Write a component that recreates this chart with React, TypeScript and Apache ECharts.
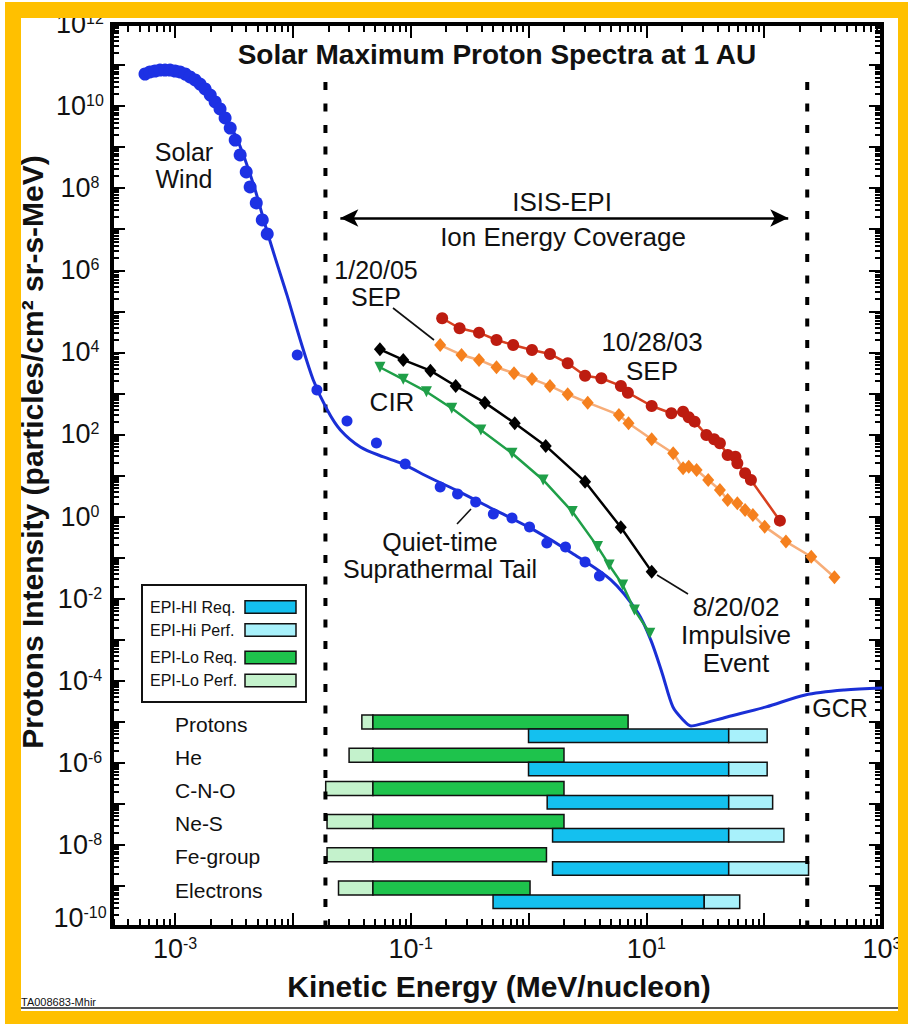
import React, { useEffect, useRef } from 'react';
import * as echarts from 'echarts';

const FONT = '"Liberation Sans", Arial, Helvetica, sans-serif';
const ORANGE = '#FFC000';

// ---- plot frame ----
const GRID_LEFT = 112;
const GRID_TOP = 24;
const GRID_W = 770;
const GRID_H = 903;

// ---- axis ranges ----
const X_MIN = Math.pow(10, -3.535);
const X_MAX = 1000;
const Y_MIN = 1e-10;
const Y_MAX = 1e12;

// ---- tick labels ----
const xLabelValues = [1e-3, 1e-1, 1e1, 1e3];
const xLabelExponents = ['-3', '-1', '1', '3'];
const yLabelValues = [1e12, 1e10, 1e8, 1e6, 1e4, 1e2, 1, 1e-2, 1e-4, 1e-6, 1e-8, 1e-10];
const yLabelExponents = ['12', '10', '8', '6', '4', '2', '0', '-2', '-4', '-6', '-8', '-10'];

// ---- tick positions ----
const xDecadeTicks = [1e-3, 1e-2, 1e-1, 1, 1e1, 1e2, 1e3];
const xMinorBases = [1e-4, 1e-3, 1e-2, 1e-1, 1, 1e1, 1e2];
const yDecadeTicks = [1e-10, 1e-9, 1e-8, 1e-7, 1e-6, 1e-5, 1e-4, 1e-3, 1e-2, 1e-1, 1, 1e1, 1e2, 1e3, 1e4, 1e5, 1e6, 1e7, 1e8, 1e9, 1e10, 1e11, 1e12];
const yMinorBases = [1e-10, 1e-9, 1e-8, 1e-7, 1e-6, 1e-5, 1e-4, 1e-3, 1e-2, 1e-1, 1, 1e1, 1e2, 1e3, 1e4, 1e5, 1e6, 1e7, 1e8, 1e9, 1e10, 1e11];
const minorMultipliers = [2, 3, 4, 5, 6, 7, 8, 9];

// ---- data: [energy MeV/nucleon, intensity] ----
const solarWindCurve = [
  [5.56e-4, 6.4e10], [7.45e-4, 7.57e10], [1.0e-3, 7.16e10], [1.34e-3, 4.84e10], [1.8e-3, 2.08e10],
  [2.41e-3, 8.04e9], [3.24e-3, 1.98e9], [3.94e-3, 4.86e8], [4.79e-3, 9.04e7], [5.82e-3, 1.27e7],
  [7.08e-3, 2.0e6], [8.96e-3, 2.37e5], [1.156e-2, 2.0e4], [1.49e-2, 2.13e3], [1.96e-2, 395],
  [2.53e-2, 129], [3.74e-2, 49.7], [5.87e-2, 28.3], [8.19e-2, 20.2], [0.147, 8.7], [0.24, 4.45],
  [0.516, 1.45], [1.107, 0.472], [2.33, 0.13], [5.0, 0.0286], [8.49, 4.49e-3], [10.9, 9.86e-4],
  [13.6, 1.55e-4], [16.8, 2.3e-5], [20.5, 1.11e-5], [23.9, 7.92e-6], [29.1, 8.87e-6], [48.4, 1.31e-5],
  [104, 2.3e-5], [223, 4.51e-5], [479, 5.97e-5], [1000, 6.68e-5],
];
const solarWindDots = [
  [5.56e-4, 6.05e10], [6.13e-4, 6.78e10], [6.76e-4, 7.16e10], [7.45e-4, 7.57e10], [8.22e-4, 7.57e10],
  [9.07e-4, 7.57e10], [1.0e-3, 7.16e10], [1.1e-3, 6.78e10], [1.22e-3, 6.05e10], [1.34e-3, 5.12e10],
  [1.48e-3, 4.33e10], [1.63e-3, 3.45e10], [1.8e-3, 2.61e10], [1.99e-3, 1.86e10], [2.19e-3, 1.26e10],
  [2.41e-3, 8.5e9], [2.66e-3, 5.13e9], [2.94e-3, 2.92e9], [3.24e-3, 1.49e9], [3.57e-3, 6.44e8],
  [4.02e-3, 2.48e8], [4.34e-3, 1.07e8], [4.89e-3, 4.36e7], [5.5e-3, 1.68e7], [6.06e-3, 7.66e6],
];
const quietTailDots = [
  [1.09e-2, 8.65e3], [1.6e-2, 1.21e3], [2.88e-2, 213], [5.12e-2, 62.1], [8.98e-2, 19.1],
  [0.178, 5.26], [0.25, 3.55], [0.356, 2.27], [0.503, 1.16], [0.724, 0.925], [1.02, 0.558],
  [1.43, 0.228], [2.06, 0.182], [3.02, 0.0783], [4.0, 0.0357],
];
const sep102803 = [
  [0.185, 6.78e4], [0.26, 3.86e4], [0.38, 3.02e4], [0.535, 2.0e4], [0.741, 1.51e4], [1.07, 1.14e4],
  [1.52, 9.14e3], [2.15, 5.42e3], [3.02, 2.7e3], [4.15, 2.34e3], [6.08, 1.52e3], [6.97, 1.04e3],
  [11.1, 494], [16.3, 328], [20.5, 359], [22.9, 262], [25.7, 205], [32.3, 97.3], [37.6, 76.4],
  [42.1, 61.1], [49.0, 31.7], [57.0, 28.8], [59.2, 19.9], [68.9, 11.4], [77.2, 7.8], [136, 0.794],
];
const sep012005 = [
  [0.178, 1.51e4], [0.27, 8.65e3], [0.38, 6.53e3], [0.535, 4.34e3], [0.753, 3.1e3], [1.07, 2.25e3],
  [1.52, 1.52e3], [2.15, 953], [3.18, 596], [5.85, 299], [7.06, 188], [11.1, 76.4], [16.9, 34.8],
  [20.5, 15.0], [22.9, 16.4], [26.7, 13.6], [33.5, 7.8], [42.1, 4.45], [49.0, 2.54], [59.2, 2.11],
  [68.9, 1.45], [80.2, 1.09], [101, 0.568], [153, 0.245], [251, 0.105], [395, 0.0332],
];
const impulsive082002 = [
  [5.48e-2, 1.19e4], [8.65e-2, 6.53e3], [0.147, 3.58e3], [0.241, 1.52e3], [0.426, 596],
  [0.764, 188], [1.4, 52.5], [3.02, 7.08], [6.07, 0.548], [11.1, 0.0455],
];
const cirEvent = [
  [5.48e-2, 4.34e3], [8.65e-2, 2.21e3], [0.136, 1.1e3], [0.223, 435], [0.394, 129], [0.724, 34.8],
  [1.33, 7.8], [2.35, 1.32], [3.85, 0.185], [4.83, 0.0662], [6.3, 0.0216], [7.92, 5.31e-3], [10.7, 1.44e-3],
];

// ISIS-EPI coverage boundaries (MeV/nucleon)
const coverageBounds = [0.0189, 232];
const coverageTop = 3.86e10;
const arrowEnds = [0.0253, 160];
const arrowLevel = 1.88e7;

// ---- instrument energy coverage ----
const species = ['Protons', 'He', 'C-N-O', 'Ne-S', 'Fe-group', 'Electrons'];
const epiLoPerfStart = [0.0385, 0.03, 0.019, 0.0195, 0.0195, 0.0244];
const epiLoReqStart = [0.0478, 0.0478, 0.0478, 0.0478, 0.0478, 0.0478];
const epiLoReqEnd = [7.0, 2.0, 2.0, 2.0, 1.42, 1.03];
const epiHiReqStart = [1.0, 1.0, 1.44, 1.6, 1.6, 0.5];
const epiHiReqEnd = [50, 50, 50, 50, 50, 31];
const epiHiPerfEnd = [106, 106, 118, 147, 238, 62];

const COLORS = {
  hiReq: '#14c0ef',
  hiPerf: '#a8f1fb',
  loReq: '#1ec34c',
  loPerf: '#c4f2cc',
};

const LX0 = Math.log10(X_MIN);
const LX1 = Math.log10(X_MAX);
const LY0 = Math.log10(Y_MIN);
const LY1 = Math.log10(Y_MAX);
const PX_PER_DEC_X = GRID_W / (LX1 - LX0);
const PX_PER_DEC_Y = GRID_H / (LY1 - LY0);

const txt = (text: string, x: number, y: number, size: number, extra: any = {}) => ({
  type: 'text',
  x,
  y,
  rotation: extra.rotation || 0,
  silent: true,
  z: 100,
  style: {
    text,
    font: `${extra.bold ? 'bold ' : ''}${size}px ${FONT}`,
    fill: extra.fill || '#111',
    align: extra.align || 'center',
    verticalAlign: 'middle',
    lineHeight: extra.lineHeight,
  },
});
const seg = (x1: number, y1: number, x2: number, y2: number, w = 1.6, color = '#111') => ({
  type: 'line',
  silent: true,
  z: 100,
  shape: { x1, y1, x2, y2 },
  style: { stroke: color, lineWidth: w },
});

function minorList(bases: number[], lo: number, hi: number) {
  const out: number[] = [];
  bases.forEach((b) => minorMultipliers.forEach((m) => {
    const v = m * b;
    if (v > lo && v < hi) out.push(v);
  }));
  return out;
}

// tick marks as mark-lines in data space (length given in pixels -> decades)
function tickMarkLines() {
  const lines: any[] = [];
  const addX = (v: number, len: number) => {
    const f = Math.pow(10, len / PX_PER_DEC_Y);
    lines.push([{ coord: [v, Y_MIN] }, { coord: [v, Y_MIN * f] }]);
    lines.push([{ coord: [v, Y_MAX] }, { coord: [v, Y_MAX / f] }]);
  };
  const addY = (v: number, len: number) => {
    const f = Math.pow(10, len / PX_PER_DEC_X);
    lines.push([{ coord: [X_MIN, v] }, { coord: [X_MIN * f, v] }]);
    lines.push([{ coord: [X_MAX, v] }, { coord: [X_MAX / f, v] }]);
  };
  xDecadeTicks.forEach((v) => addX(v, 14));
  minorList(xMinorBases, X_MIN, X_MAX).forEach((v) => addX(v, 8));
  yDecadeTicks.forEach((v) => addY(v, 13));
  minorList(yMinorBases, Y_MIN, Y_MAX).forEach((v) => addY(v, 7));
  return lines;
}

function annotationGraphic() {
  const legendRows = [
    { label: 'EPI-HI Req.', color: COLORS.hiReq, y: 607 },
    { label: 'EPI-Hi Perf.', color: COLORS.hiPerf, y: 630 },
    { label: 'EPI-Lo Req.', color: COLORS.loReq, y: 657.5 },
    { label: 'EPI-Lo Perf.', color: COLORS.loPerf, y: 680.5 },
  ];
  return [
    txt('Solar Maximum Proton Spectra at 1 AU', 497, 54, 28, { bold: true }),
    txt('Protons Intensity (particles/cm² sr-s-MeV)', 32, 452, 30, { bold: true, rotation: Math.PI / 2 }),
    txt('Kinetic Energy (MeV/nucleon)', 499, 986, 30, { bold: true }),
    txt('Solar\nWind', 184, 165, 25, { lineHeight: 27 }),
    txt('ISIS-EPI', 562, 202, 26),
    txt('Ion Energy Coverage', 563, 237, 26),
    txt('1/20/05\nSEP', 376, 283, 25, { lineHeight: 27 }),
    txt('10/28/03\nSEP', 652, 356, 26, { lineHeight: 29 }),
    txt('CIR', 392, 402, 26),
    txt('Quiet-time\nSuprathermal Tail', 440, 555, 25, { lineHeight: 27 }),
    txt('8/20/02\nImpulsive\nEvent', 736, 635, 26, { lineHeight: 28 }),
    txt('GCR', 840, 708, 25),
    seg(393, 308, 434, 340),
    seg(457, 524, 471, 509),
    seg(657, 575, 688, 594),
    {
      type: 'rect', z: 100, silent: true,
      shape: { x: 142, y: 585, width: 164, height: 117 },
      style: { fill: '#fff', stroke: '#111', lineWidth: 2 },
    },
    ...legendRows.flatMap((r) => [
      txt(r.label, 150, r.y, 16, { align: 'left' }),
      {
        type: 'rect', z: 101, silent: true,
        shape: { x: 245, y: r.y - 6.3, width: 51, height: 12.6 },
        style: { fill: r.color, stroke: '#111', lineWidth: 1.5 },
      },
    ]),
    txt('TA008683-Mhir', 21, 1002, 11, { align: 'left' }),
    seg(21, 1008, 898, 1008, 2, '#555'),
  ];
}

function buildOption() {
  // bars table: [start, end, row, layer(0 = EPI-Lo, 1 = EPI-Hi), kind(0 req, 1 perf)]
  const bars: number[][] = [];
  species.forEach((_, i) => {
    bars.push([epiLoPerfStart[i], epiLoReqStart[i], i, 0, 1]);
    bars.push([epiLoReqStart[i], epiLoReqEnd[i], i, 0, 0]);
    bars.push([epiHiReqStart[i], epiHiReqEnd[i], i, 1, 0]);
    bars.push([epiHiReqEnd[i], epiHiPerfEnd[i], i, 1, 1]);
  });

  const richLabel = (fs: number, ss: number) => ({
    b: { fontSize: fs, fontFamily: FONT, fill: '#111', verticalAlign: 'middle' },
    s: { fontSize: ss, fontFamily: FONT, fill: '#111', verticalAlign: 'top' },
  });

  const dashStyle = { color: '#000', width: 4, type: [8, 13.5] as any };

  const series: any[] = [
    {
      type: 'custom',
      name: 'coverage',
      xAxisIndex: 1,
      yAxisIndex: 1,
      silent: true,
      data: bars,
      encode: { x: [0, 1], y: 2 },
      renderItem: (params: any, api: any) => {
        const row = api.value(2);
        const layer = api.value(3);
        const kind = api.value(4);
        const p0 = api.coord([api.value(0), row]);
        const p1 = api.coord([api.value(1), row]);
        const band = api.size([1, 1])[1];
        const top = p0[1] - band / 2 + (layer === 0 ? 2 : 16);
        const h = layer === 0 ? 14 : 13.5;
        const fill = layer === 0
          ? (kind === 0 ? COLORS.loReq : COLORS.loPerf)
          : (kind === 0 ? COLORS.hiReq : COLORS.hiPerf);
        return {
          type: 'rect',
          shape: { x: p0[0], y: top, width: p1[0] - p0[0], height: h },
          style: { fill, stroke: '#111', lineWidth: 1.5 },
        };
      },
      z: 3,
    },
    {
      type: 'custom',
      name: 'species',
      xAxisIndex: 1,
      yAxisIndex: 1,
      silent: true,
      data: species.map((_, i) => [1e-3, i]),
      encode: { x: 0, y: 1 },
      renderItem: (params: any, api: any) => {
        const p = api.coord([api.value(0), api.value(1)]);
        const band = api.size([1, 1])[1];
        return {
          type: 'text',
          style: {
            text: species[params.dataIndex],
            x: p[0],
            y: p[1] - band / 2 + 11,
            font: `21px ${FONT}`,
            fill: '#111',
            align: 'left',
            verticalAlign: 'middle',
          },
        };
      },
      z: 3,
    },
    {
      type: 'line',
      name: 'coverage-low',
      data: [[coverageBounds[0], coverageTop], [coverageBounds[0], Y_MIN]],
      symbol: 'none',
      lineStyle: dashStyle,
      silent: true,
      z: 4,
      markLine: {
        silent: true,
        symbol: ['arrow', 'arrow'],
        symbolSize: [13, 18],
        label: { show: false },
        lineStyle: { color: '#000', width: 2.5, type: 'solid' },
        data: [[{ coord: [arrowEnds[0], arrowLevel] }, { coord: [arrowEnds[1], arrowLevel] }]],
      },
    },
    {
      type: 'line',
      name: 'coverage-high',
      data: [[coverageBounds[1], coverageTop], [coverageBounds[1], Y_MIN]],
      symbol: 'none',
      lineStyle: dashStyle,
      silent: true,
      z: 4,
    },
    {
      type: 'line',
      name: 'axis-ticks',
      data: [[X_MIN, Y_MIN]],
      symbol: 'none',
      lineStyle: { width: 0, opacity: 0 },
      silent: true,
      clip: false,
      z: 9,
      markLine: {
        silent: true,
        animation: false,
        symbol: ['none', 'none'],
        label: { show: false },
        emphasis: { disabled: true },
        lineStyle: { color: '#000', width: 2, type: 'solid', opacity: 1 },
        data: tickMarkLines(),
      },
    },
    {
      type: 'line',
      name: 'Solar wind model',
      data: solarWindCurve,
      smooth: 0.3,
      symbol: 'none',
      lineStyle: { color: '#1a2fd6', width: 3 },
      z: 5,
    },
    {
      type: 'scatter',
      name: 'Solar wind',
      data: solarWindDots,
      symbol: 'circle',
      symbolSize: 13,
      itemStyle: { color: '#1d31e4', opacity: 1 },
      z: 6,
    },
    {
      type: 'scatter',
      name: 'Quiet-time suprathermal tail',
      data: quietTailDots,
      symbol: 'circle',
      symbolSize: 11,
      itemStyle: { color: '#1d31e4', opacity: 1 },
      z: 6,
    },
    {
      type: 'line',
      name: '1/20/05 SEP',
      data: sep012005,
      symbol: 'diamond',
      symbolSize: [12, 14],
      itemStyle: { color: '#f5801e' },
      lineStyle: { color: '#f7ad78', width: 2.5 },
      z: 6,
    },
    {
      type: 'line',
      name: '10/28/03 SEP',
      data: sep102803,
      symbol: 'circle',
      symbolSize: 12,
      itemStyle: { color: '#bd1c10' },
      lineStyle: { color: '#d8401f', width: 2.5 },
      z: 7,
    },
    {
      type: 'line',
      name: '8/20/02 Impulsive',
      data: impulsive082002,
      symbol: 'diamond',
      symbolSize: [12, 14],
      itemStyle: { color: '#000' },
      lineStyle: { color: '#000', width: 2.5 },
      z: 7,
    },
    {
      type: 'line',
      name: 'CIR',
      data: cirEvent,
      symbol: 'triangle',
      symbolSize: 11,
      symbolRotate: 180,
      itemStyle: { color: '#1f9f48' },
      lineStyle: { color: '#1f9f48', width: 2.5 },
      z: 7,
    },
    {
      type: 'custom',
      name: 'x-labels',
      silent: true,
      data: xLabelValues.map((v) => [v, Y_MIN]),
      encode: { x: 0, y: 1 },
      renderItem: (params: any, api: any) => {
        const p = api.coord([api.value(0), Y_MIN]);
        return {
          type: 'text',
          style: {
            text: `{b|10}{s|${xLabelExponents[params.dataIndex]}}`,
            rich: richLabel(27, 16),
            x: p[0],
            y: p[1] + 22,
            fill: '#111',
            align: 'center',
            verticalAlign: 'middle',
          },
        };
      },
      z: 8,
    },
    {
      type: 'custom',
      name: 'y-labels',
      silent: true,
      data: yLabelValues.map((v) => [X_MIN, v]),
      encode: { x: 0, y: 1 },
      renderItem: (params: any, api: any) => {
        const p = api.coord([X_MIN, api.value(1)]);
        const exp = yLabelExponents[params.dataIndex];
        return {
          type: 'text',
          style: {
            text: `{b|10}{s|${exp}}`,
            rich: richLabel(27, 16),
            x: p[0] - 32,
            y: p[1] - (exp === '-10' ? 9 : 0),
            fill: '#111',
            align: 'center',
            verticalAlign: 'middle',
          },
        };
      },
      z: 8,
    },
  ];

  const hiddenAxis = {
    axisLine: { show: false },
    axisTick: { show: false },
    axisLabel: { show: false },
    splitLine: { show: false },
  };

  return {
    animation: false,
    backgroundColor: '#ffffff',
    textStyle: { fontFamily: FONT },
    grid: [
      { left: GRID_LEFT, top: GRID_TOP, width: GRID_W, height: GRID_H, show: true, borderColor: '#000', borderWidth: 4, backgroundColor: 'rgba(0,0,0,0)' },
      { left: GRID_LEFT, top: 713, width: GRID_W, height: 199.2, show: false },
    ],
    xAxis: [
      { type: 'log', gridIndex: 0, min: X_MIN, max: X_MAX, ...hiddenAxis },
      { type: 'log', gridIndex: 1, min: X_MIN, max: X_MAX, ...hiddenAxis },
    ],
    yAxis: [
      { type: 'log', gridIndex: 0, min: Y_MIN, max: Y_MAX, ...hiddenAxis },
      { type: 'category', gridIndex: 1, data: species, inverse: true, ...hiddenAxis },
    ],
    graphic: annotationGraphic(),
    series,
  };
}

export default function App() {
  const ref = useRef<HTMLDivElement>(null);
  useEffect(() => {
    document.body.style.margin = '0';
    const chart = echarts.init(ref.current as HTMLDivElement, undefined, { renderer: 'svg', width: 908, height: 1024 });
    chart.setOption(buildOption() as any);
    return () => chart.dispose();
  }, []);
  const band = (left: number, top: number, width: number, height: number) => (
    <div style={{ position: 'absolute', left, top, width, height, background: ORANGE, pointerEvents: 'none' }} />
  );
  return (
    <div style={{ position: 'absolute', left: 0, top: 0, width: 908, height: 1024, background: '#fff', overflow: 'hidden' }}>
      <div ref={ref} style={{ position: 'absolute', left: 0, top: 0, width: 908, height: 1024 }} />
      {band(5, 2, 903, 16)}
      {band(5, 2, 16, 1022)}
      {band(898, 2, 10, 1022)}
      {band(5, 1011, 903, 13)}
    </div>
  );
}
